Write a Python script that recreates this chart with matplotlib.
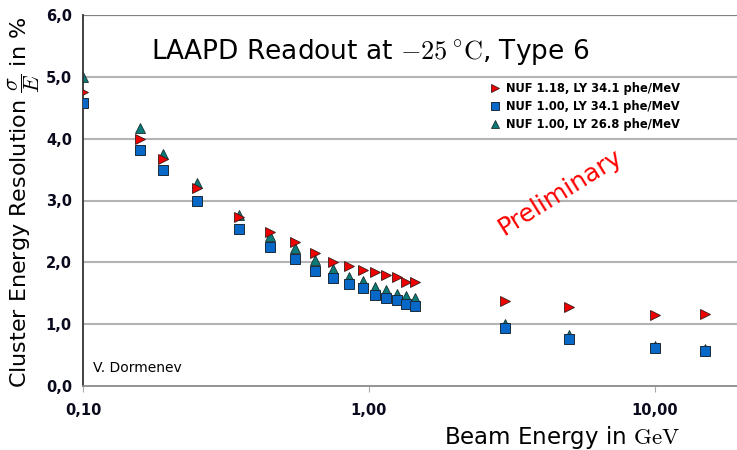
import matplotlib
matplotlib.use("Agg")
import matplotlib.pyplot as plt
from matplotlib.ticker import FixedLocator, FixedFormatter, NullLocator

plt.rcParams["mathtext.fontset"] = "cm"

energy_low = [0.10, 0.158, 0.19, 0.25, 0.35, 0.45, 0.55, 0.65, 0.75, 0.85,
              0.95, 1.05, 1.15, 1.25, 1.35, 1.45, 3.0, 5.0, 10.0, 15.0]
res_nuf118_ly341 = [4.76, 3.99, 3.67, 3.21, 2.73, 2.49, 2.33, 2.15, 2.01, 1.94,
                    1.88, 1.85, 1.79, 1.76, 1.68, 1.68, 1.38, 1.28, 1.15, 1.17]
res_nuf100_ly341 = [4.58, 3.82, 3.49, 3.00, 2.54, 2.24, 2.05, 1.86, 1.74, 1.65,
                    1.58, 1.47, 1.42, 1.39, 1.33, 1.29, 0.94, 0.76, 0.61, 0.56]
res_nuf100_ly268 = [5.00, 4.18, 3.76, 3.29, 2.77, 2.43, 2.23, 2.03, 1.90, 1.77,
                    1.70, 1.60, 1.56, 1.48, 1.46, 1.42, 1.01, 0.82, 0.65, 0.60]

labels = ["NUF 1.18, LY 34.1 phe/MeV", "NUF 1.00, LY 34.1 phe/MeV", "NUF 1.00, LY 26.8 phe/MeV"]
x_ticks = [0.1, 1.0, 10.0]
x_ticklabels = ["0,10", "1,00", "10,00"]
y_ticks = [0, 1, 2, 3, 4, 5, 6]
y_ticklabels = ["0,0", "1,0", "2,0", "3,0", "4,0", "5,0", "6,0"]

fig = plt.figure(figsize=(7.37, 4.5), dpi=100)
ax = fig.add_axes([83/737, 64/450, (741-83)/737, (386-15)/450])
ax.set_xscale("log")
ax.set_xlim(0.1, 20)
ax.set_ylim(0, 6)

for y in y_ticks[1:-1]:
    ax.axhline(y, color="#b4b4b4", lw=1.5, zorder=0)
ax.axhline(6, color="#808080", lw=1.6, zorder=0)

ax.plot(energy_low, res_nuf118_ly341, ls="none", marker=">", ms=7, mfc="#ee0000",
        mec="#3a1a1a", mew=0.6, label=labels[0], zorder=3)
ax.plot(energy_low, res_nuf100_ly341, ls="none", marker="s", ms=6.5, mfc="#0868c8",
        mec="#1a2a3a", mew=0.7, label=labels[1], zorder=3)
ax.plot(energy_low, res_nuf100_ly268, ls="none", marker="^", ms=7, mfc="#0a7a78",
        mec="#1a3030", mew=0.6, label=labels[2], zorder=2)

for s in ["top", "right"]:
    ax.spines[s].set_visible(False)
ax.spines["left"].set_color("#333333")
ax.spines["left"].set_linewidth(1.3)
ax.spines["bottom"].set_color("#8a8a8a")
ax.spines["bottom"].set_linewidth(1.3)

ax.xaxis.set_major_locator(FixedLocator(x_ticks))
ax.xaxis.set_major_formatter(FixedFormatter(x_ticklabels))
ax.xaxis.set_minor_locator(NullLocator())
ax.yaxis.set_major_locator(FixedLocator(y_ticks))
ax.yaxis.set_major_formatter(FixedFormatter(y_ticklabels))
ax.tick_params(axis="x", length=4, color="#aaaaaa", pad=8)
ax.tick_params(axis="y", length=0, pad=8)
for lab in ax.get_xticklabels() + ax.get_yticklabels():
    lab.set_fontweight("bold")
    lab.set_fontsize(10.5)
    lab.set_color("#0a0a1e")

ax.set_xlabel(r"Beam Energy in $\mathrm{GeV}$", fontsize=16.5, loc="right")
ax.xaxis.set_label_coords(0.907, -0.103)
ax.set_ylabel(r"Cluster Energy Resolution $\dfrac{\sigma}{E}$ in %", fontsize=16)
ax.yaxis.set_label_coords(-0.062, 0.496)

ax.text(0.436, 0.9, r"LAAPD Readout at $-25\,^{\circ}\mathrm{C}$, Type 6", transform=ax.transAxes,
        fontsize=19, ha="center", va="center")
ax.text(0.015, 0.03, "V. Dormenev", transform=ax.transAxes, fontsize=10, ha="left", va="bottom")
ax.text(0.725, 0.523, "Preliminary", transform=ax.transAxes, fontsize=18, color="#ff0000",
        rotation=32, ha="center", va="center")

leg = ax.legend(loc="upper left", bbox_to_anchor=(0.6125, 0.832), frameon=False,
                prop={"weight": "bold", "size": 8.3}, handletextpad=0.5, labelspacing=0.42,
                handlelength=0.8, borderaxespad=0, markerscale=0.85)
fig.savefig("out.png", dpi=100)
